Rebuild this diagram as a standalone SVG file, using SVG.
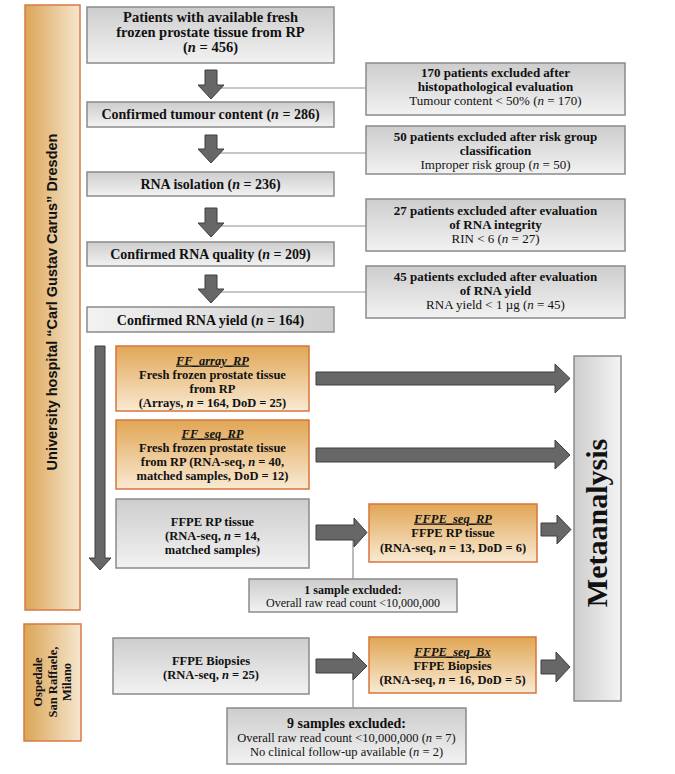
<svg xmlns="http://www.w3.org/2000/svg" width="675" height="774" viewBox="0 0 675 774">
<defs>
<linearGradient id="gGray" x1="0" y1="0" x2="0" y2="1"><stop offset="0" stop-color="#cdcdcd"/><stop offset="1" stop-color="#f2f2f2"/></linearGradient>
<linearGradient id="gGrayH" x1="0" y1="0" x2="1" y2="0"><stop offset="0" stop-color="#f2f2f2"/><stop offset="1" stop-color="#cfcfcf"/></linearGradient>
<linearGradient id="gMeta" x1="0" y1="0" x2="1" y2="0"><stop offset="0" stop-color="#cdcdcd"/><stop offset="1" stop-color="#f4f4f4"/></linearGradient>
<linearGradient id="gOrange" x1="0" y1="0" x2="0" y2="1"><stop offset="0" stop-color="#e0a655"/><stop offset="1" stop-color="#f9ead3"/></linearGradient>
<linearGradient id="gBar" x1="0" y1="0" x2="1" y2="0"><stop offset="0" stop-color="#dba556"/><stop offset="1" stop-color="#f6e6cf"/></linearGradient>
</defs>
<style>
.gray{fill:url(#gGray);stroke:#8a8a8a;stroke-width:1.5}
.orange{fill:url(#gOrange);stroke:#d6753b;stroke-width:1.5}
.bar{fill:url(#gBar);stroke:#d77a44;stroke-width:1.5}
.arrow{fill:#676767;stroke:#3e3e3e;stroke-width:1}
.line{stroke:#8f8f8f;stroke-width:1.2;fill:none}
text{font-family:"Liberation Serif","Times New Roman",serif;fill:#111;text-anchor:middle}
.b{font-weight:bold}
.r{font-weight:normal}
.lab{font-weight:bold;font-style:italic;text-decoration:underline}
.f14{font-size:14px}
.f13{font-size:13px}
.f125{font-size:12.5px}
.f12{font-size:12px}
.sans{font-family:"Liberation Sans",Arial,sans-serif;font-weight:bold;font-size:14.5px}
</style>

<g id="connectors">
<line class="line" x1="211" y1="88" x2="366" y2="88"/>
<line class="line" x1="211" y1="153" x2="366" y2="153"/>
<line class="line" x1="211" y1="226" x2="366" y2="226"/>
<line class="line" x1="211" y1="292" x2="366" y2="292"/>
<line class="line" x1="353" y1="532" x2="353" y2="579"/>
<line class="line" x1="353" y1="666" x2="353" y2="708"/>
<polygon class="arrow" points="205,70 217,70 217,85 224,85 211,99 198,85 205,85"/>
<polygon class="arrow" points="205,135 217,135 217,149 224,149 211,163 198,149 205,149"/>
<polygon class="arrow" points="205,208 217,208 217,223 224,223 211,237 198,223 205,223"/>
<polygon class="arrow" points="205,275 217,275 217,289 224,289 211,303 198,289 205,289"/>
<polygon class="arrow" points="95,346 105,346 105,558 111,558 100,570 89,558 95,558"/>
<polygon class="arrow" points="316,372 555,372 555,364 570,378.5 555,393 555,385 316,385"/>
<polygon class="arrow" points="316,448 555,448 555,440 570,455 555,469 555,462 316,462"/>
<polygon class="arrow" points="316,525 354,525 354,518 367,532.5 354,547 354,540 316,540"/>
<polygon class="arrow" points="541,523 557,523 557,515 571,529.5 557,544 557,536 541,536"/>
<polygon class="arrow" points="316,659 353,659 353,652 367,666 353,680 353,673 316,673"/>
<polygon class="arrow" points="541,660 556,660 556,652 570,667 556,682 556,674 541,674"/>
</g>

<g id="site-dresden">
<rect class="bar" x="25" y="5" width="55" height="605"/>
<text class="sans" transform="translate(57,302) rotate(-90)">University hospital “Carl Gustav Carus” Dresden</text>
</g>
<g id="site-milano">
<rect class="bar" x="24" y="624" width="57" height="117"/>
<g transform="translate(38,682) rotate(-90)">
<text class="b f125" x="0" y="0" dy="0.35em">Ospedale</text>
<text class="b f125" x="0" y="14.5" dy="0.35em">San Raffaele,</text>
<text class="b f125" x="0" y="29" dy="0.35em">Milano</text>
</g>
</g>

<g id="n-start">
<rect class="gray" x="87" y="7" width="247" height="56"/>
<text class="b" style="font-size:14.5px" x="210.5" y="22">Patients with available fresh</text>
<text class="b" style="font-size:14.5px" x="210.5" y="37">frozen prostate tissue from RP</text>
<text class="b" style="font-size:14.5px" x="210.5" y="52">(<tspan font-style="italic">n</tspan> = 456)</text>
</g>
<g id="n-tumour">
<rect class="gray" x="87" y="102" width="247" height="25"/>
<text class="b f14" x="210.5" y="119">Confirmed tumour content (<tspan font-style="italic">n</tspan> = 286)</text>
</g>
<g id="n-isolation">
<rect class="gray" x="87" y="172" width="247" height="24"/>
<text class="b f14" x="210.5" y="189">RNA isolation (<tspan font-style="italic">n</tspan> = 236)</text>
</g>
<g id="n-quality">
<rect class="gray" x="87" y="242" width="247" height="24"/>
<text class="b f14" x="210.5" y="259">Confirmed RNA quality (<tspan font-style="italic">n</tspan> = 209)</text>
</g>
<g id="n-yield">
<rect x="87" y="307" width="247" height="25" fill="url(#gGrayH)" stroke="#8a8a8a" stroke-width="1.5"/>
<text class="b f14" x="210.5" y="324.5">Confirmed RNA yield (<tspan font-style="italic">n</tspan> = 164)</text>
</g>

<g id="ex-histo">
<rect class="gray" x="366" y="63" width="259" height="52"/>
<text class="b f13" x="495.5" y="77">170 patients excluded after</text>
<text class="b f13" x="495.5" y="91">histopathological evaluation</text>
<text class="r f13" x="495.5" y="105">Tumour content &lt; 50% (<tspan font-style="italic">n</tspan> = 170)</text>
</g>
<g id="ex-risk">
<rect class="gray" x="366" y="126" width="259" height="48"/>
<text class="b f13" x="495.5" y="140.5">50 patients excluded after risk group</text>
<text class="b f13" x="495.5" y="154.5">classification</text>
<text class="r f13" x="495.5" y="168.5">Improper risk group (<tspan font-style="italic">n</tspan> = 50)</text>
</g>
<g id="ex-rin">
<rect class="gray" x="366" y="199" width="259" height="52"/>
<text class="b f13" x="495.5" y="215">27 patients excluded after evaluation</text>
<text class="b f13" x="495.5" y="229">of RNA integrity</text>
<text class="r f13" x="495.5" y="243">RIN &lt; 6 (<tspan font-style="italic">n</tspan> = 27)</text>
</g>
<g id="ex-yield">
<rect class="gray" x="366" y="266" width="259" height="52"/>
<text class="b f13" x="495.5" y="281">45 patients excluded after evaluation</text>
<text class="b f13" x="495.5" y="295">of RNA yield</text>
<text class="r f13" x="495.5" y="309">RNA yield &lt; 1 µg (<tspan font-style="italic">n</tspan> = 45)</text>
</g>

<g id="n-ff-array">
<rect class="orange" x="116" y="346" width="193" height="65"/>
<text class="lab f125" x="212.5" y="364.5">FF_array_RP</text>
<text class="b f125" x="212.5" y="378.8">Fresh frozen prostate tissue</text>
<text class="b f125" x="212.5" y="393">from RP</text>
<text class="b f125" x="212.5" y="407.3">(Arrays, <tspan font-style="italic">n</tspan> = 164, DoD = 25)</text>
</g>
<g id="n-ff-seq">
<rect class="orange" x="116" y="420" width="193" height="69"/>
<text class="lab f125" x="212.5" y="437.5">FF_seq_RP</text>
<text class="b f125" x="212.5" y="451.8">Fresh frozen prostate tissue</text>
<text class="b f125" x="212.5" y="466">from RP (RNA-seq, <tspan font-style="italic">n</tspan> = 40,</text>
<text class="b f125" x="212.5" y="480.3">matched samples, DoD = 12)</text>
</g>
<g id="n-ffpe-rp">
<rect class="gray" x="116" y="499" width="193" height="69"/>
<text class="b f125" x="212.5" y="525.5">FFPE RP tissue</text>
<text class="b f125" x="212.5" y="539.5">(RNA-seq, <tspan font-style="italic">n</tspan> = 14,</text>
<text class="b f125" x="212.5" y="553.5">matched samples)</text>
</g>
<g id="n-ffpe-seq-rp">
<rect class="orange" x="369" y="504" width="168" height="58"/>
<text class="lab f125" x="453" y="522.5">FFPE_seq_RP</text>
<text class="b f125" x="453" y="537">FFPE RP tissue</text>
<text class="b f125" x="453" y="551.5">(RNA-seq, <tspan font-style="italic">n</tspan> = 13, DoD = 6)</text>
</g>
<g id="ex-1sample">
<rect class="gray" x="249" y="579" width="208" height="33"/>
<text class="b f12" x="353" y="593.5">1 sample excluded:</text>
<text class="r f12" x="353" y="606.5">Overall raw read count &lt;10,000,000</text>
</g>

<g id="n-ffpe-bx">
<rect class="gray" x="113" y="638" width="196" height="56"/>
<text class="b f125" x="211" y="664.5">FFPE Biopsies</text>
<text class="b f125" x="211" y="678.5">(RNA-seq, <tspan font-style="italic">n</tspan> = 25)</text>
</g>
<g id="n-ffpe-seq-bx">
<rect class="orange" x="369" y="637" width="167" height="56"/>
<text class="lab f125" x="452.5" y="655.5">FFPE_seq_Bx</text>
<text class="b f125" x="452.5" y="669.5">FFPE Biopsies</text>
<text class="b f125" x="452.5" y="683.5">(RNA-seq, <tspan font-style="italic">n</tspan> = 16, DoD = 5)</text>
</g>
<g id="ex-9samples">
<rect class="gray" x="227" y="708" width="239" height="56"/>
<text class="b f14" x="346.5" y="728">9 samples excluded:</text>
<text class="r f125" x="346.5" y="742">Overall raw read count &lt;10,000,000 (<tspan font-style="italic">n</tspan> = 7)</text>
<text class="r f125" x="346.5" y="756">No clinical follow-up available (<tspan font-style="italic">n</tspan> = 2)</text>
</g>

<g id="n-meta">
<rect x="574" y="356" width="47" height="345" fill="url(#gMeta)" stroke="#8a8a8a" stroke-width="1.5"/>
<text class="b" style="font-size:30px" transform="translate(607,523) rotate(-90)">Metaanalysis</text>
</g>
</svg>
